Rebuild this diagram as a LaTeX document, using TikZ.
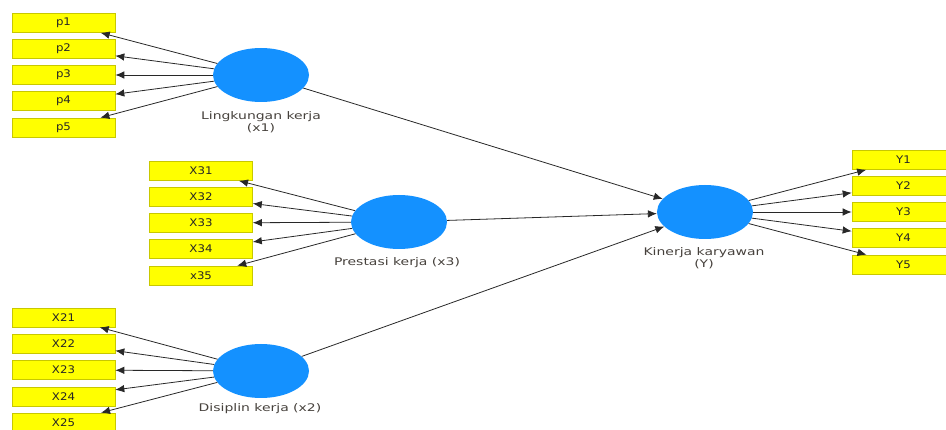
\documentclass[tikz,border=0pt]{standalone}
\usepackage{fontspec}
\setmainfont{DejaVu Sans}
\newfontfamily\boxfont{DejaVu Sans}[FakeStretch=1.12]
\newfontfamily\lblfont{DejaVu Sans}[FakeStretch=1.33]
\usetikzlibrary{shapes.geometric,arrows.meta}
\definecolor{indfill}{RGB}{255,255,0}
\definecolor{indborder}{RGB}{200,200,0}
\definecolor{latfill}{RGB}{20,145,255}
\definecolor{arr}{RGB}{40,40,40}
\definecolor{lbltext}{RGB}{70,65,60}
\begin{document}
\begin{tikzpicture}[x=1pt,y=-1pt,
  ind/.style={rectangle, fill=indfill, draw=indborder, line width=0.6pt,
    minimum width=103pt, minimum height=19pt, inner sep=0pt,
    font=\boxfont\fontsize{10.5}{12}\selectfont, text=black!85},
  lat/.style={ellipse, fill=latfill, draw=none, minimum width=96pt,
    minimum height=54pt, inner sep=0pt},
  lbl/.style={font=\lblfont\fontsize{10.5}{11.5}\selectfont, text=lbltext, align=center},
  con/.style={draw=arr, line width=0.8pt, -{Latex[length=9pt,width=7.5pt]}}
]
\useasboundingbox (0,0) rectangle (946,430);
\clip (0,0) rectangle (946,430);

% latent variables
\node[lat] (x1) at (261,75) {};
\node[lat] (x3) at (399,222) {};
\node[lat] (x2) at (261,371) {};
\node[lat] (Y) at (705,212) {};

% labels
\node[lbl] (lx1) at (261,122) {Lingkungan kerja\\(x1)};
\node[lbl] (lx3) at (397,263) {Prestasi kerja (x3)};
\node[lbl] (lx2) at (260,409) {Disiplin kerja (x2)};
\node[lbl] (lY) at (704,258) {Kinerja karyawan\\(Y)};

% indicators x1
\node[ind] (p1) at (63.5,23) {p1};
\node[ind] (p2) at (63.5,49) {p2};
\node[ind] (p3) at (63.5,75) {p3};
\node[ind] (p4) at (63.5,101) {p4};
\node[ind] (p5) at (63.5,127.5) {p5};

% indicators x3
\node[ind] (X31) at (201,171) {X31};
\node[ind] (X32) at (201,197) {X32};
\node[ind] (X33) at (201,223) {X33};
\node[ind] (X34) at (201,249) {X34};
\node[ind] (x35) at (201,275.5) {x35};

% indicators x2
\node[ind] (X21) at (63.5,317.5) {X21};
\node[ind] (X22) at (63.5,343.5) {X22};
\node[ind] (X23) at (63.5,370) {X23};
\node[ind] (X24) at (63.5,396.5) {X24};
\node[ind] (X25) at (63.5,422.5) {X25};

% indicators Y
\node[ind] (Y1) at (903.5,160) {Y1};
\node[ind] (Y2) at (903.5,186) {Y2};
\node[ind] (Y3) at (903.5,212) {Y3};
\node[ind] (Y4) at (903.5,238) {Y4};
\node[ind] (Y5) at (903.5,264.5) {Y5};

% loadings
\foreach \t in {p1,p2,p3,p4,p5} \draw[con] (x1) -- (\t);
\foreach \t in {X31,X32,X33,X34,x35} \draw[con] (x3) -- (\t);
\foreach \t in {X21,X22,X23,X24,X25} \draw[con] (x2) -- (\t);
\foreach \t in {Y1,Y2,Y3,Y4,Y5} \draw[con] (Y) -- (\t);

% structural paths
\draw[con] (x1) -- (Y);
\draw[con] (x3) -- (Y);
\draw[con] (x2) -- (Y);
\end{tikzpicture}
\end{document}
